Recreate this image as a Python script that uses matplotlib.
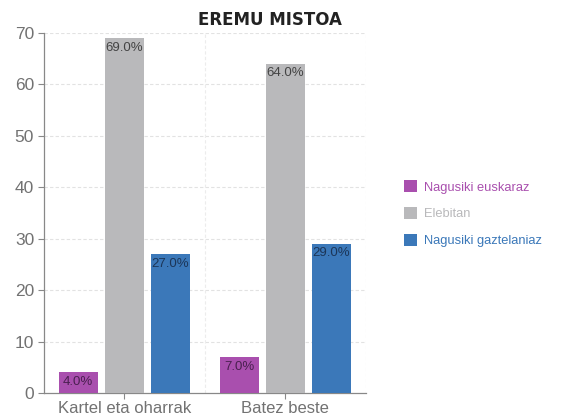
import numpy as np
import matplotlib.pyplot as plt

plt.rcParams['font.family'] = ['Liberation Sans', 'DejaVu Sans']

categories = ["Kartel eta oharrak", "Batez beste"]
series = ["Nagusiki euskaraz", "Elebitan", "Nagusiki gaztelaniaz"]
euskaraz = [4.0, 7.0]
elebitan = [69.0, 64.0]
gaztelaniaz = [27.0, 29.0]

colors = ["#a94fae", "#b9b9bb", "#3b78b9"]
label_colors = ["#4a2050", "#444444", "#1c3658"]

fig = plt.figure(figsize=(5.62, 4.18), dpi=100)
ax = fig.add_axes([0.078, 0.06, 0.573, 0.861])

x = np.arange(len(categories))
width = 0.245
offsets = [-0.286, 0.0, 0.286]
values = [euskaraz, elebitan, gaztelaniaz]

handles = []
for vals, off, c, lc, name in zip(values, offsets, colors, label_colors, series):
    bars = ax.bar(x + off, vals, width=width, color=c, label=name, zorder=3)
    handles.append(bars)
    for xi, v in zip(x + off, vals):
        ax.text(xi, v - 0.7, f"{v:.1f}%", ha="center", va="top",
                fontsize=9.5, color=lc, zorder=4)

ax.set_xlim(-0.5, 1.5)
ax.set_ylim(0, 70)
ax.set_yticks(range(0, 71, 10))
ax.set_xticks(x)
ax.set_xticklabels(categories)

# dashed grid, horizontal per tick and vertical between groups
for y in range(10, 71, 10):
    ax.axhline(y, color="#e2e2e2", lw=0.8, ls=(0, (3, 2)), zorder=1)
for xv in [0.5, 1.5]:
    ax.axvline(xv, color="#ececec", lw=0.8, ls=(0, (3, 2)), zorder=1)

for s in ["top", "right"]:
    ax.spines[s].set_visible(False)
for s in ["left", "bottom"]:
    ax.spines[s].set_color("#888888")
    ax.spines[s].set_linewidth(0.9)

ax.tick_params(axis="both", colors="#888888", labelcolor="#727272",
               labelsize=12.5, length=4, pad=3)
ax.tick_params(axis="x", labelsize=12, pad=2)

fig.text(198 / 562, 0.952, "EREMU MISTOA", ha="left", va="center",
         fontsize=12, fontweight="bold", color="#222222",
         family="DejaVu Sans")

leg = fig.legend(handles=handles, labels=series, loc="upper left",
                 bbox_to_anchor=(0.699, 0.596), frameon=False,
                 fontsize=9.3, handlelength=1.0, handleheight=1.0,
                 handletextpad=0.5, labelspacing=1.05)
for t, c in zip(leg.get_texts(), colors):
    t.set_color(c)

fig.savefig("out.png", dpi=100)
